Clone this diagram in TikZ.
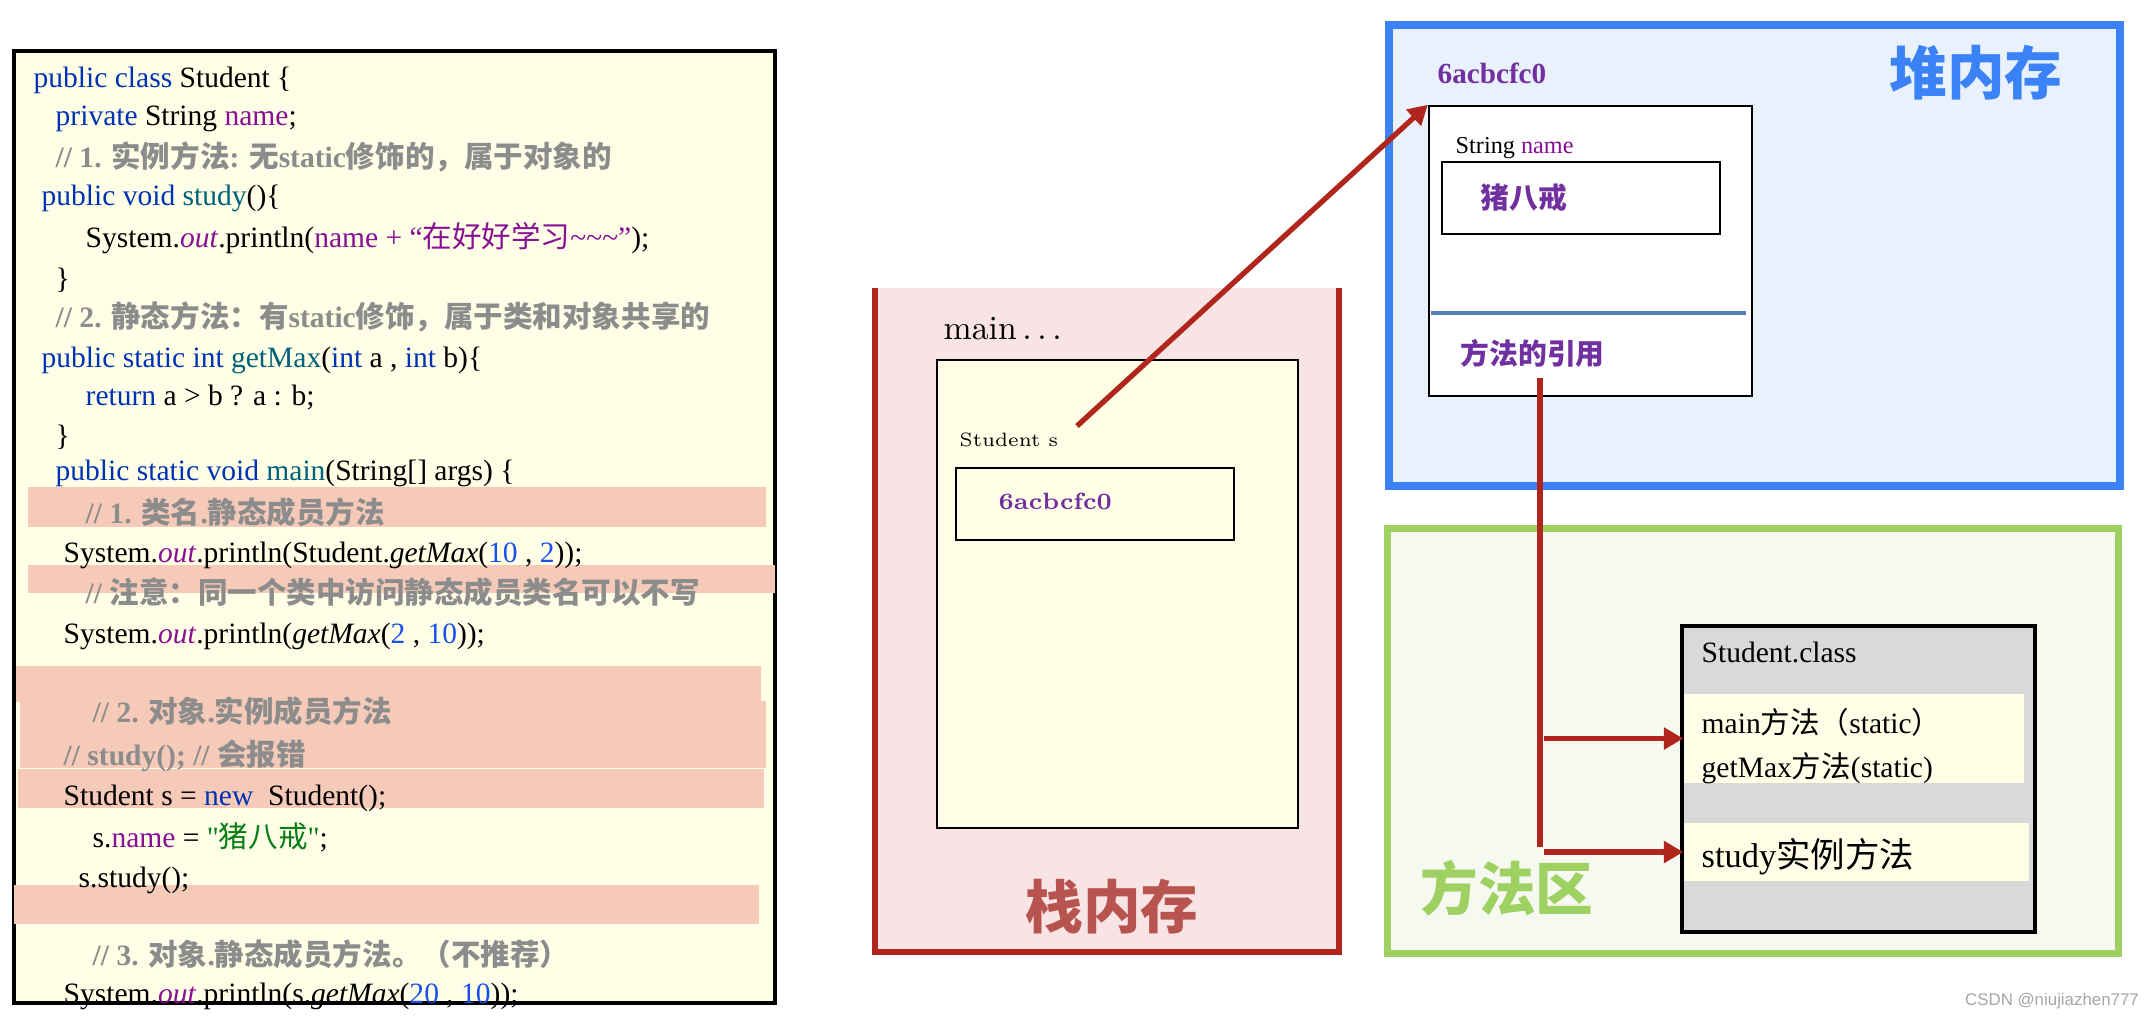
\documentclass[tikz,border=0pt]{standalone}
\usepackage{fontspec}
\usepackage{tikz}
\usetikzlibrary{arrows.meta,fit}
\newfontfamily\tms{Liberation Serif}
\newfontfamily\cjk{Noto Sans CJK SC}
\newfontfamily\wmfont{Liberation Sans}

\definecolor{memCode}  {RGB}{255,254,230}
\definecolor{memBand}  {RGB}{246,202,184}
\definecolor{memKey}   {RGB}{0,51,179}
\definecolor{memFunc}  {RGB}{0,98,122}
\definecolor{memField} {RGB}{135,16,148}
\definecolor{memNum}   {RGB}{23,80,235}
\definecolor{memStr}   {RGB}{6,125,23}
\definecolor{memCmt}   {RGB}{140,140,140}
\definecolor{memPurple}{RGB}{112,48,160}
\definecolor{memRed}   {RGB}{176,38,28}
\definecolor{stackBg}  {RGB}{249,228,229}
\definecolor{stackTxt} {RGB}{184,84,80}
\definecolor{heapBlue} {RGB}{58,130,246}
\definecolor{heapBg}   {RGB}{232,241,252}
\definecolor{heapSep}  {RGB}{84,125,185}
\definecolor{methGreen}{RGB}{158,208,98}
\definecolor{methBg}   {RGB}{246,249,240}
\definecolor{classGray}{RGB}{217,217,217}

\newcommand\zh[1]{{\cjk #1}}
\newcommand\kw[1]{\textcolor{memKey}{#1}}
\newcommand\fn[1]{\textcolor{memFunc}{#1}}
\newcommand\fld[1]{\textcolor{memField}{#1}}
\newcommand\nmb[1]{\textcolor{memNum}{#1}}
\newcommand\outk{\textcolor{memField}{\textit{out}}}

\tikzset{
  code/.style={anchor=base west,inner sep=0pt,font=\tms\fontsize{8.4}{10}\selectfont},
  cmt/.style={code,text=memCmt,font=\tms\fontsize{8.4}{10}\selectfont\bfseries},
  band/.style={fill=memBand,draw=none,inner sep=0pt},
  box/.style={draw=black,line width=0.7pt,inner sep=0pt},
  refline/.style={memRed,line width=1.5pt},
  refarrow/.style={refline,-{Triangle[length=5.5pt,width=6pt]}},
  bigzh/.style={font=\cjk\bfseries\fontsize{16.4}{18}\selectfont,inner sep=0pt},
}

\begin{document}
\begin{tikzpicture}[x=0.1mm,y=-0.1mm]
  \useasboundingbox (0,0) rectangle (2154,1020);

  % ── code listing ─────────────────────────────────────
  \node[fit={(14,51) (775,1003)},box,line width=0.9pt,fill=memCode] (codebox) {};
  \node[band,fit={(28,487) (766,527)}] (hl1) {};
  \node[band,fit={(28,565) (775,593)}] (hl2) {};
  \node[band,fit={(16,666) (761,702)}] (hl3) {};
  \node[band,fit={(20,701) (766,768)}] (hl4) {};
  \node[band,fit={(18,769) (764,808)}] (hl5) {};
  \node[band,fit={(14,885) (759,924)}] (hl6) {};

  \node[code] (l1) at (33,87) {\kw{public class} Student \{};
  \node[code] (l2) at (55,125) {\kw{private} String \fld{name};};
  \node[cmt]  (l3) at (55,167) {// 1. \zh{实例方法}: \zh{无}static\zh{修饰的，属于对象的}};
  \node[code] (l4) at (41,205) {\kw{public void} \fn{study}()\{};
  \node[code] (l5) at (85,247) {System.\outk.println(\fld{name +~“\zh{在好好学习}\textasciitilde\textasciitilde\textasciitilde”});};
  \node[code] (l6) at (55,288) {\}};
  \node[cmt]  (l7) at (55,327) {// 2. \zh{静态方法：有}static\zh{修饰，属于类和对象共享的}};
  \node[code] (l8) at (41,367) {\kw{public static int} \fn{getMax}(\kw{int} a , \kw{int} b)\{};
  \node[code] (l9) at (85,405) {\kw{return} a > b ? a : b;};
  \node[code] (l10) at (55,445) {\}};
  \node[code] (l11) at (55,480) {\kw{public static void} \fn{main}(String[] args) \{};
  \node[cmt]  (l12) at (85,523) {// 1. \zh{类名}.\zh{静态成员方法}};
  \node[code] (l13) at (63,562) {System.\outk.println(Student.\textit{getMax}(\nmb{10} , \nmb{2}));};
  \node[cmt]  (l14) at (85,603) {// \zh{注意：同一个类中访问静态成员类名可以不写}};
  \node[code] (l15) at (63,643) {System.\outk.println(\textit{getMax}(\nmb{2} , \nmb{10}));};
  \node[cmt]  (l17) at (92,722) {// 2. \zh{对象}.\zh{实例成员方法}};
  \node[cmt]  (l18) at (63,765) {// study(); // \zh{会报错}};
  \node[code] (l19) at (63,805) {Student s = \kw{new}\ \ Student();};
  \node[code] (l20) at (92,847) {s.\fld{name} = \textcolor{memStr}{"\zh{猪八戒}"};};
  \node[code] (l21) at (78,887) {s.study();};
  \node[cmt]  (l23) at (92,965) {// 3. \zh{对象}.\zh{静态成员方法。（不推荐）}};
  \node[code] (l24) at (63,1003) {System.\outk.println(s.\textit{getMax}(\nmb{20} , \nmb{10}));};

  % ── stack ────────────────────────────────────────────
  \fill[stackBg] (875,288) rectangle (1339,952);
  \draw[memRed,line width=1.8pt] (875,288) -- (875,952) -- (1339,952) -- (1339,288);
  \node[anchor=base west,inner sep=0pt,font=\fontsize{9.6}{11}\selectfont] (mainlbl) at (943,339) {main\,.\,.\,.};
  \node[fit={(937,360) (1298,828)},box,fill=memCode] (frame) {};
  \node[anchor=base west,inner sep=0pt,font=\fontsize{5.5}{6}\selectfont] (svar) at (959,446) {Student s};
  \node[fit={(956,468) (1234,540)},box] (sbox) {};
  \node[anchor=base west,inner sep=0pt,font=\bfseries\fontsize{6.7}{8}\selectfont,text=memPurple] (saddr) at (998,509) {6acbcfc0};
  \node[bigzh,text=stackTxt] (stacklbl) at (1112,907) {栈内存};
  \coordinate (sref) at (1077,426);

  % ── heap ─────────────────────────────────────────────
  \node[fit={(1389,25) (2120,486)},draw=heapBlue,line width=2.1pt,fill=heapBg,inner sep=0pt] (heap) {};
  \node[bigzh,text=heapBlue] (heaplbl) at (1976,73) {堆内存};
  \node[anchor=base west,inner sep=0pt,font=\tms\bfseries\fontsize{8.3}{9}\selectfont,text=memPurple] (haddr) at (1437,83) {6acbcfc0};
  \node[fit={(1429,106) (1752,396)},box,fill=white] (obj) {};
  \node[anchor=base west,inner sep=0pt,font=\tms\fontsize{6.9}{8}\selectfont] (fname) at (1455,153) {String \fld{name}};
  \node[fit={(1442,162) (1720,234)},box,fill=white] (fbox) {};
  \node[anchor=west,inner sep=0pt,font=\cjk\bfseries\fontsize{8.2}{9}\selectfont,text=memPurple] (fval) at (1480,198) {猪八戒};
  \draw[heapSep,line width=1.4pt] (1431,313) -- (1746,313);
  \node[anchor=west,inner sep=0pt,font=\cjk\bfseries\fontsize{8.2}{9}\selectfont,text=memPurple] (mref) at (1460,353) {方法的引用};
  \coordinate (reftop) at (1540,378);
  \coordinate (refend) at (1540,847);
  \coordinate (refarr) at (1544,378);

  % ── method area ──────────────────────────────────────
  \node[fit={(1387,528) (2118,953)},draw=methGreen,line width=2pt,fill=methBg,inner sep=0pt] (meth) {};
  \node[bigzh,text=methGreen] (methlbl) at (1507,888) {方法区};
  \node[fit={(1682,626) (2035,932)},box,line width=0.9pt,fill=classGray] (cls) {};
  \node[anchor=base west,inner sep=0pt,font=\tms\fontsize{8.4}{9}\selectfont] (clsname) at (1701,662) {Student.class};
  \node[fit={(1684,694) (2024,783)},fill=memCode,inner sep=0pt] (mstat) {};
  \node[anchor=base west,inner sep=0pt,font=\tms\fontsize{8.4}{9}\selectfont] (mmain) at (1701,733) {main\zh{方法（}static\zh{）}};
  \node[anchor=base west,inner sep=0pt,font=\tms\fontsize{8.4}{9}\selectfont] (mmax) at (1701,777) {getMax\zh{方法}(static)};
  \node[fit={(1684,823) (2029,881)},fill=memCode,inner sep=0pt] (minst) {};
  \node[anchor=base west,inner sep=0pt,font=\tms\fontsize{9.8}{11}\selectfont] (mstudy) at (1701,867) {study\zh{实例方法}};

  % ── references ───────────────────────────────────────
  \draw[refarrow] (sref) -- (obj.north west);
  \draw[refline] (reftop) -- (refend);
  \draw[refarrow] (refarr |- mstat.west) -- (mstat.west);
  \draw[refarrow] (refarr |- minst.west) -- (minst.west);

  \node[font=\wmfont\fontsize{4.8}{5}\selectfont,text=gray!70,inner sep=0pt] (wm) at (2052,1001) {CSDN @niujiazhen777};
\end{tikzpicture}
\end{document}
